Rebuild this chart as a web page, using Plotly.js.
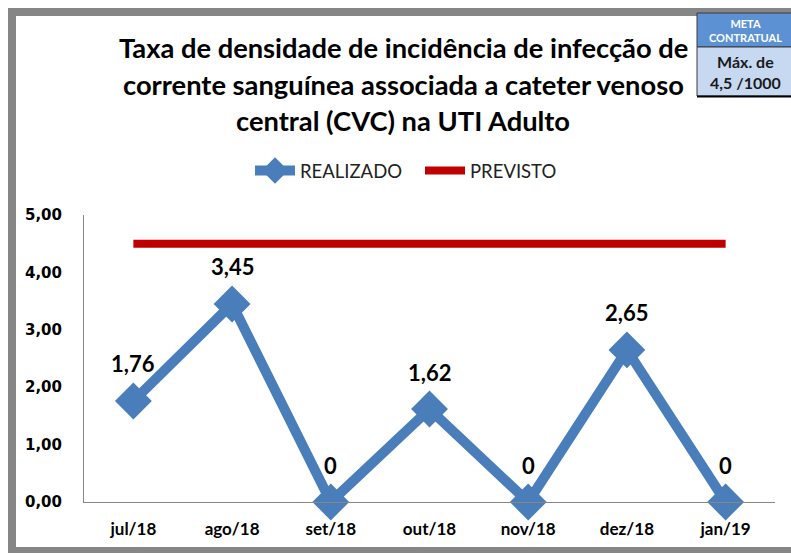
<!DOCTYPE html>
<html>
<head>
<meta charset="utf-8">
<script src="https://cdn.plot.ly/plotly-3.0.1.min.js"></script>
<style>html,body{margin:0;padding:0;background:#fff;}#chart{width:791px;height:553px;}</style>
</head>
<body>
<div id="chart"></div>
<script>
const categories = ['jul/18','ago/18','set/18','out/18','nov/18','dez/18','jan/19'];
const realizado = [1.76, 3.45, 0, 1.62, 0, 2.65, 0];
const previsto = [4.5, 4.5, 4.5, 4.5, 4.5, 4.5, 4.5];
const yTicks = [0, 1, 2, 3, 4, 5];
const titleLines = ['Taxa de densidade de incidência de infecção de', 'corrente sanguínea associada a cateter venoso', 'central (CVC) na UTI Adulto'];
const metaHeader = ['META', 'CONTRATUAL'];
const metaBody = ['Máx. de', '4,5 /1000'];

const W = 791, H = 553;
const M = {l: 84, r: 16, t: 215, b: 51};
const px = x => (x - M.l) / (W - M.l - M.r);
const py = y => (H - M.b - y) / (H - M.t - M.b);

const labels = realizado.map(v => v === 0 ? '0' : v.toFixed(2).replace('.', ','));

const traces = [
  {
    x: categories, y: realizado, name: 'REALIZADO', type: 'scatter', mode: 'lines+markers',
    line: {color: '#4a7ebb', width: 10},
    marker: {symbol: 'diamond', size: 24, color: '#4a7ebb', line: {color: '#4a7ebb', width: 4}},
    hoverinfo: 'skip', cliponaxis: false
  },
  {
    x: categories, y: previsto, name: 'PREVISTO', type: 'scatter', mode: 'lines',
    line: {color: '#c00000', width: 8},
    hoverinfo: 'skip'
  }
];

const titleFont = {family: 'Lato, sans-serif', size: 27.3, color: '#000', weight: 'bold'};
const annotations = [];
const titleY = [48, 84, 120];
titleLines.forEach((t, i) => annotations.push({
  xref: 'paper', yref: 'paper', x: px(403), y: py(titleY[i]), xanchor: 'center', yanchor: 'middle',
  text: t, showarrow: false, font: titleFont
}));
categories.forEach((c, i) => annotations.push({
  xref: 'x', yref: 'y', x: c, y: realizado[i], yshift: 37, xanchor: 'center', yanchor: 'middle',
  text: labels[i], showarrow: false,
  font: {family: 'Lato, sans-serif', size: 22, color: '#000', weight: 'bold'}
}));
annotations.push({
  xref: 'paper', yref: 'paper', x: px(745), y: py(31), xanchor: 'center', yanchor: 'middle',
  text: metaHeader.join('<br>'), showarrow: false, borderpad: 0,
  font: {family: 'Lato, sans-serif', size: 11, color: '#fff', weight: 'bold'}
});
annotations.push({
  xref: 'paper', yref: 'paper', x: px(745), y: py(72), xanchor: 'center', yanchor: 'middle',
  text: metaBody.join('<br>'), showarrow: false, borderpad: 0,
  font: {family: 'Lato, sans-serif', size: 16, color: '#1a1a1a', weight: 'bold'}
});

const shapes = [
  {type: 'rect', xref: 'paper', yref: 'paper', x0: px(12), x1: px(840), y0: py(12), y1: py(551),
   line: {color: '#868686', width: 8}, fillcolor: 'rgba(0,0,0,0)'},
  {type: 'rect', xref: 'paper', yref: 'paper', x0: px(697), x1: px(795), y0: py(13), y1: py(47),
   line: {color: '#3a3a3a', width: 1}, fillcolor: '#5c92d4'},
  {type: 'rect', xref: 'paper', yref: 'paper', x0: px(697), x1: px(795), y0: py(47), y1: py(96),
   line: {color: '#3a3a3a', width: 1}, fillcolor: '#c6d9f1'},
  {type: 'line', xref: 'paper', yref: 'paper', x0: px(697), x1: px(795), y0: py(96.5), y1: py(96.5),
   line: {color: '#000', width: 2}}
];

const layout = {
  width: W, height: H, margin: M,
  paper_bgcolor: '#fff', plot_bgcolor: '#fff',
  separators: ',.',
  showlegend: true,
  legend: {orientation: 'h', x: px(250), y: py(171), xanchor: 'left', yanchor: 'middle',
    font: {family: 'Lato, sans-serif', size: 18.5, color: '#222'}, itemwidth: 40, traceorder: 'normal',
    entrywidth: 115, entrywidthmode: 'pixels'},
  xaxis: {
    type: 'category', range: [-0.5, 6.5], showline: true, linecolor: '#868686', linewidth: 1,
    showgrid: false, zeroline: false, ticks: 'outside', ticklen: 12, tickcolor: 'rgba(0,0,0,0)',
    tickfont: {family: 'Lato, sans-serif', size: 17, color: '#000', weight: 'bold'}, fixedrange: true
  },
  yaxis: {
    range: [0, 5], tickvals: yTicks, tickformat: '.2f', showline: true, linecolor: '#868686', linewidth: 1,
    showgrid: false, zeroline: false, ticks: 'outside', ticklen: 18, tickcolor: 'rgba(0,0,0,0)',
    tickfont: {family: 'DejaVu Sans, sans-serif', size: 15, color: '#000', weight: 'bold'}, fixedrange: true
  },
  shapes: shapes,
  annotations: annotations
};

Plotly.newPlot('chart', traces, layout, {displayModeBar: false, staticPlot: true});
</script>
</body>
</html>
